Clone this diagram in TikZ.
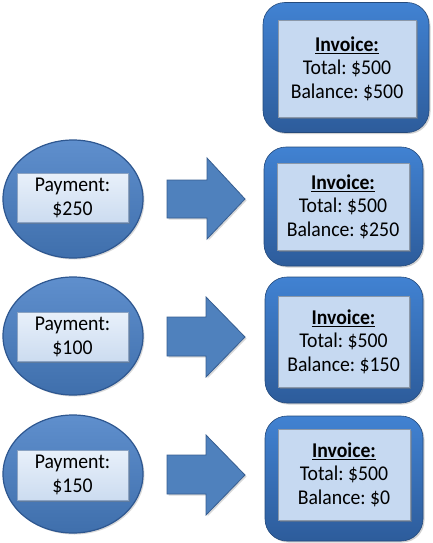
\documentclass[tikz,border=0pt]{standalone}
\usepackage{fontspec}
\setmainfont{Carlito}[FakeStretch=0.94]
\usetikzlibrary{shapes.geometric,shadows}
\frenchspacing
\definecolor{outtop}{HTML}{4182D2}
\definecolor{outbot}{HTML}{2D5C9B}
\definecolor{innfill}{HTML}{C6D9F1}
\definecolor{elltop}{HTML}{5F8FCD}
\definecolor{ellbot}{HTML}{3F6FAC}
\definecolor{elledge}{HTML}{2E5790}
\definecolor{paytop}{HTML}{E8F0FA}
\definecolor{paybot}{HTML}{CCDCF0}
\definecolor{payedge}{HTML}{8AA2C2}
\definecolor{arrfill}{HTML}{4F81BD}
\definecolor{arredge}{HTML}{375E91}
\tikzset{
  invouter/.style={rectangle, rounded corners=22pt, top color=outtop, bottom color=outbot,
    draw=outbot!80!black, line width=0.6pt, inner sep=0pt,
    drop shadow={shadow xshift=1.5pt, shadow yshift=-1.5pt, opacity=0.35}},
  invinner/.style={rectangle, fill=innfill, draw=innfill!70!black, line width=0.3pt, inner sep=0pt,
    align=center, font=\fontsize{21}{23.5}\selectfont,
    drop shadow={shadow xshift=1.5pt, shadow yshift=-1.5pt, opacity=0.45}},
  payell/.style={ellipse, top color=elltop, bottom color=ellbot, draw=elledge, line width=1.2pt,
    inner sep=0pt, drop shadow={shadow xshift=1.5pt, shadow yshift=-1.5pt, opacity=0.3}},
  payrect/.style={rectangle, top color=paytop, bottom color=paybot, draw=payedge, line width=1pt,
    inner sep=0pt, align=center, font=\fontsize{21}{24}\selectfont,
    drop shadow={shadow xshift=1.5pt, shadow yshift=-1.5pt, opacity=0.4}},
  arrowshp/.style={fill=arrfill, draw=arredge, line width=0.8pt, line join=miter,
    drop shadow={shadow xshift=1.5pt, shadow yshift=-1.5pt, opacity=0.3}}
}
\newcommand{\invtext}[1]{\underline{\textbf{Invoice:}}\\Total: \$500\\Balance: \$#1}
\begin{document}
\begin{tikzpicture}[x=1pt,y=-1pt]
\fill[white] (0,0) rectangle (432,543);
\useasboundingbox (0,0) rectangle (432,543);
% invoices
\node[invouter, minimum width=166pt, minimum height=130pt] (io1) at (346,67.5) {};
\node[invinner, minimum width=138pt, minimum height=97pt] (ii1) at (347,68.5) {\invtext{500}};
\node[invouter, minimum width=159pt, minimum height=119pt] (io2) at (343.5,206.5) {};
\node[invinner, minimum width=132pt, minimum height=87pt] (ii2) at (343,206.5) {\invtext{250}};
\node[invouter, minimum width=158pt, minimum height=126pt] (io3) at (344,340) {};
\node[invinner, minimum width=131pt, minimum height=91pt] (ii3) at (343.5,341.5) {\invtext{150}};
\node[invouter, minimum width=158pt, minimum height=125pt] (io4) at (344,478.5) {};
\node[invinner, minimum width=132pt, minimum height=91pt] (ii4) at (344,474.5) {\invtext{0}};
% payments
\node[payell, minimum width=140pt, minimum height=118pt] (pe2) at (73,199) {};
\node[payrect, minimum width=111pt, minimum height=49pt] (pr2) at (72.5,197.5) {Payment:\\\$250};
\node[payell, minimum width=140pt, minimum height=118pt] (pe3) at (73,336) {};
\node[payrect, minimum width=111pt, minimum height=49pt] (pr3) at (72.5,336.5) {Payment:\\\$100};
\node[payell, minimum width=140pt, minimum height=118pt] (pe4) at (73,474) {};
\node[payrect, minimum width=111pt, minimum height=50pt] (pr4) at (72.5,475) {Payment:\\\$150};
% arrows
\draw[arrowshp] (167,180) -- (207,180) -- (207,158) -- (245,199) -- (207,239) -- (207,218) -- (167,218) -- cycle;
\draw[arrowshp] (167,317) -- (206,317) -- (206,297) -- (245,337) -- (206,377) -- (206,356) -- (167,356) -- cycle;
\draw[arrowshp] (167,455) -- (206,455) -- (206,435) -- (245,475) -- (206,515) -- (206,494) -- (167,494) -- cycle;
\end{tikzpicture}
\end{document}
